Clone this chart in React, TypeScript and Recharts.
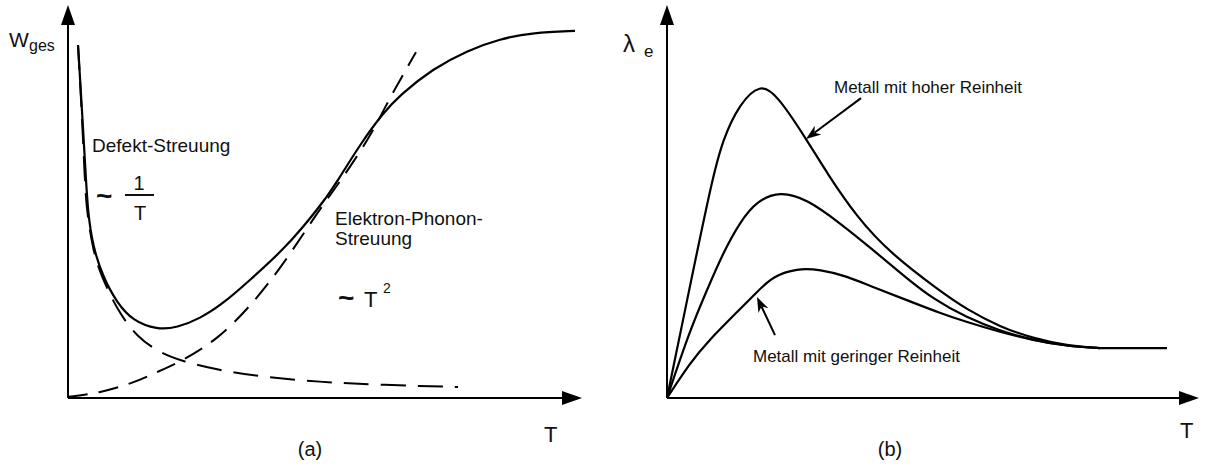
import React from "react";
import { LineChart, Line, XAxis, YAxis, ReferenceLine } from "recharts";

// (a) Wärmewiderstand W_ges über T (schematisch, beliebige Einheiten)
const wGesCurve = [
  { t: 0.195, v: 8.98 }, { t: 0.272, v: 7.33 }, { t: 0.35, v: 5.55 }, { t: 0.389, v: 4.71 },
  { t: 0.486, v: 3.84 }, { t: 0.681, v: 3.08 }, { t: 0.953, v: 2.42 }, { t: 1.265, v: 1.96 },
  { t: 1.732, v: 1.74 }, { t: 2.121, v: 1.79 }, { t: 2.568, v: 2.02 }, { t: 3.016, v: 2.4 },
  { t: 3.541, v: 3.0 }, { t: 4.183, v: 3.77 }, { t: 4.572, v: 4.35 }, { t: 4.961, v: 4.98 },
  { t: 5.233, v: 5.5 }, { t: 5.681, v: 6.45 }, { t: 6.128, v: 7.25 }, { t: 6.459, v: 7.71 },
  { t: 7.101, v: 8.38 }, { t: 7.763, v: 8.84 }, { t: 8.405, v: 9.14 }, { t: 9.047, v: 9.3 },
  { t: 9.864, v: 9.34 },
];

// Defekt-Streuung ~ 1/T
const defectCurve = [
  { t: 0.195, v: 8.98 }, { t: 0.272, v: 7.2 }, { t: 0.331, v: 5.42 }, { t: 0.37, v: 4.71 },
  { t: 0.486, v: 3.77 }, { t: 0.623, v: 3.18 }, { t: 0.953, v: 2.24 }, { t: 1.342, v: 1.55 },
  { t: 1.79, v: 1.15 }, { t: 2.218, v: 0.94 }, { t: 2.899, v: 0.71 }, { t: 3.872, v: 0.53 },
  { t: 4.844, v: 0.41 }, { t: 6.128, v: 0.33 }, { t: 7.588, v: 0.28 },
];

// Elektron-Phonon-Streuung ~ T^2
const phononCurve = [
  { t: 0, v: 0.03 }, { t: 0.623, v: 0.13 }, { t: 1.265, v: 0.38 }, { t: 1.732, v: 0.66 },
  { t: 2.218, v: 0.94 }, { t: 2.899, v: 1.48 }, { t: 3.541, v: 2.32 }, { t: 4.183, v: 3.38 },
  { t: 4.844, v: 4.71 }, { t: 5.292, v: 5.5 }, { t: 5.875, v: 6.64 }, { t: 6.167, v: 7.4 },
  { t: 6.459, v: 8.09 }, { t: 6.77, v: 8.8 },
];

// (b) Elektronische Wärmeleitfähigkeit λ_e über T
const highPurity = [
  { t: 0, v: 0 }, { t: 0.432, v: 2.85 }, { t: 0.846, v: 5.55 },
  { t: 1.053, v: 6.6 }, { t: 1.372, v: 7.5 }, { t: 1.748, v: 8.0 }, { t: 2.068, v: 7.72 },
  { t: 2.632, v: 6.56 }, { t: 3.008, v: 5.72 }, { t: 3.571, v: 4.6 }, { t: 4.192, v: 3.69 },
  { t: 5.132, v: 2.72 }, { t: 5.639, v: 2.25 }, { t: 6.259, v: 1.81 }, { t: 6.88, v: 1.52 },
  { t: 7.519, v: 1.33 }, { t: 8.139, v: 1.27 },
];

const midPurity = [
  { t: 0, v: 0 }, { t: 0.432, v: 1.73 }, { t: 0.752, v: 2.75 },
  { t: 1.053, v: 3.69 }, { t: 1.372, v: 4.48 }, { t: 1.692, v: 5.02 }, { t: 2.124, v: 5.26 },
  { t: 2.632, v: 5.06 }, { t: 3.252, v: 4.45 }, { t: 3.872, v: 3.77 }, { t: 4.474, v: 3.08 },
  { t: 5.0, v: 2.52 }, { t: 5.639, v: 2.04 }, { t: 6.259, v: 1.71 }, { t: 6.88, v: 1.47 },
  { t: 7.519, v: 1.32 }, { t: 8.139, v: 1.27 },
];

const lowPurity = [
  { t: 0, v: 0 }, { t: 0.432, v: 0.89 }, { t: 0.752, v: 1.42 }, { t: 1.372, v: 2.26 },
  { t: 1.692, v: 2.7 }, { t: 1.992, v: 3.1 }, { t: 2.444, v: 3.3 }, { t: 2.876, v: 3.27 },
  { t: 3.383, v: 3.1 }, { t: 3.872, v: 2.82 }, { t: 4.511, v: 2.49 }, { t: 5.132, v: 2.16 },
  { t: 5.639, v: 1.93 }, { t: 6.259, v: 1.68 }, { t: 6.88, v: 1.47 }, { t: 7.519, v: 1.32 },
  { t: 8.139, v: 1.27 },
];

// gemeinsamer Grenzwert bei hohen Temperaturen
const commonPlateau = [
  { t: 8.139, v: 1.27 }, { t: 9.398, v: 1.27 },
];

// Pfeile der Beschriftungen (Start -> Spitze)
const highPurityPointer = [{ x: 3.647, y: 7.63 }, { x: 2.613, y: 6.59 }];
const lowPurityPointer = [{ x: 2.03, y: 1.6 }, { x: 1.692, y: 2.57 }];

const AXIS_DOMAIN: [number, number] = [0, 10];
const INK = "#000";
const TEXT = "#111";
const FONT = "'Liberation Sans', Arial, Helvetica, sans-serif";

// line with a solid triangular head at its end point
function axisArrow(head: number, half: number) {
  return (props: any) => {
    const { x1, y1, x2, y2 } = props;
    const dx = x2 - x1;
    const dy = y2 - y1;
    const len = Math.hypot(dx, dy) || 1;
    const ux = dx / len;
    const uy = dy / len;
    const bx = x2 - ux * head;
    const by = y2 - uy * head;
    const px = -uy * half;
    const py = ux * half;
    return (
      <g>
        <line x1={x1} y1={y1} x2={bx + ux} y2={by + uy} stroke={INK} strokeWidth={2} />
        <polygon points={`${x2},${y2} ${bx + px},${by + py} ${bx - px},${by - py}`} fill={INK} />
      </g>
    );
  };
}

// pointer with a notched head
function pointerArrow(props: any) {
  const { x1, y1, x2, y2 } = props;
  const dx = x2 - x1;
  const dy = y2 - y1;
  const len = Math.hypot(dx, dy) || 1;
  const ux = dx / len;
  const uy = dy / len;
  const head = 15;
  const half = 5.5;
  const bx = x2 - ux * head;
  const by = y2 - uy * head;
  const nx = x2 - ux * head * 0.7;
  const ny = y2 - uy * head * 0.7;
  const px = -uy * half;
  const py = ux * half;
  return (
    <g>
      <line x1={x1} y1={y1} x2={nx} y2={ny} stroke={INK} strokeWidth={2} />
      <polygon
        points={`${x2},${y2} ${bx + px},${by + py} ${nx},${ny} ${bx - px},${by - py}`}
        fill={INK}
      />
    </g>
  );
}

const axisShape = axisArrow(20, 7);

export default function App() {
  return (
    <div style={{ position: "absolute", left: 0, top: 0, width: 1207, height: 469, background: "#fff" }}>
      <div style={{ position: "absolute", left: 0, top: 0 }}>
        <LineChart width={600} height={469} margin={{ top: 5, right: 18, bottom: 71, left: 68 }}>
          <XAxis dataKey="t" type="number" domain={AXIS_DOMAIN} allowDataOverflow hide />
          <YAxis dataKey="v" type="number" domain={AXIS_DOMAIN} allowDataOverflow hide />
          <ReferenceLine ifOverflow="visible" segment={[{ x: 0, y: 0 }, { x: 10, y: 0 }]} shape={axisShape} />
          <ReferenceLine ifOverflow="visible" segment={[{ x: 0, y: 0 }, { x: 0, y: 10 }]} shape={axisShape} />
          <Line data={defectCurve} dataKey="v" type="basis" stroke={INK} strokeWidth={2}
            strokeDasharray="25 12" dot={false} isAnimationActive={false} />
          <Line data={phononCurve} dataKey="v" type="basis" stroke={INK} strokeWidth={2}
            strokeDasharray="20 11" dot={false} isAnimationActive={false} />
          <Line data={wGesCurve} dataKey="v" type="basis" stroke={INK} strokeWidth={2.2}
            dot={false} isAnimationActive={false} />
        </LineChart>
      </div>
      <div style={{ position: "absolute", left: 600, top: 0 }}>
        <LineChart width={607} height={469} margin={{ top: 5, right: 8, bottom: 71, left: 67 }}>
          <XAxis dataKey="t" type="number" domain={AXIS_DOMAIN} allowDataOverflow hide />
          <YAxis dataKey="v" type="number" domain={AXIS_DOMAIN} allowDataOverflow hide />
          <ReferenceLine ifOverflow="visible" segment={[{ x: 0, y: 0 }, { x: 10, y: 0 }]} shape={axisShape} />
          <ReferenceLine ifOverflow="visible" segment={[{ x: 0, y: 0 }, { x: 0, y: 10 }]} shape={axisShape} />
          <Line data={highPurity} dataKey="v" type="basis" stroke={INK} strokeWidth={2.2}
            dot={false} isAnimationActive={false} />
          <Line data={midPurity} dataKey="v" type="basis" stroke={INK} strokeWidth={2.2}
            dot={false} isAnimationActive={false} />
          <Line data={lowPurity} dataKey="v" type="basis" stroke={INK} strokeWidth={2.2}
            dot={false} isAnimationActive={false} />
          <Line data={commonPlateau} dataKey="v" type="linear" stroke={INK} strokeWidth={2.2}
            dot={false} isAnimationActive={false} />
          <ReferenceLine ifOverflow="visible" segment={highPurityPointer} shape={pointerArrow} />
          <ReferenceLine ifOverflow="visible" segment={lowPurityPointer} shape={pointerArrow} />
        </LineChart>
      </div>
      <svg
        width={1207}
        height={469}
        style={{ position: "absolute", left: 0, top: 0, pointerEvents: "none" }}
        fontFamily={FONT}
        fill={TEXT}
      >
        {/* Panel (a) */}
        <text x={9} y={47} fontSize={21}>W</text>
        <text x={29} y={51} fontSize={16}>ges</text>
        <text x={92} y={152} fontSize={19}>Defekt-Streuung</text>
        <text x={96} y={205} fontSize={28} fontWeight="bold">~</text>
        <text x={139} y={190} fontSize={20} textAnchor="middle">1</text>
        <line x1={125} y1={195} x2={154} y2={195} stroke={TEXT} strokeWidth={2} />
        <text x={140} y={220} fontSize={20} textAnchor="middle">T</text>
        <text x={335} y={225} fontSize={19}>Elektron-Phonon-</text>
        <text x={335} y={245} fontSize={19}>Streuung</text>
        <text x={338} y={307} fontSize={28} fontWeight="bold">~</text>
        <text x={364} y={307} fontSize={22}>T</text>
        <text x={383} y={293} fontSize={14}>2</text>
        <text x={544} y={442} fontSize={22}>T</text>
        <text x={310} y={456} fontSize={20} textAnchor="middle">(a)</text>
        {/* Panel (b) */}
        <text x={623} y={52} fontSize={24}>λ</text>
        <text x={644} y={57} fontSize={17}>e</text>
        <text x={834} y={93} fontSize={17}>Metall mit hoher Reinheit</text>
        <text x={753} y={362} fontSize={17}>Metall mit geringer Reinheit</text>
        <text x={1180} y={438} fontSize={22}>T</text>
        <text x={890} y={456} fontSize={20} textAnchor="middle">(b)</text>
      </svg>
    </div>
  );
}
